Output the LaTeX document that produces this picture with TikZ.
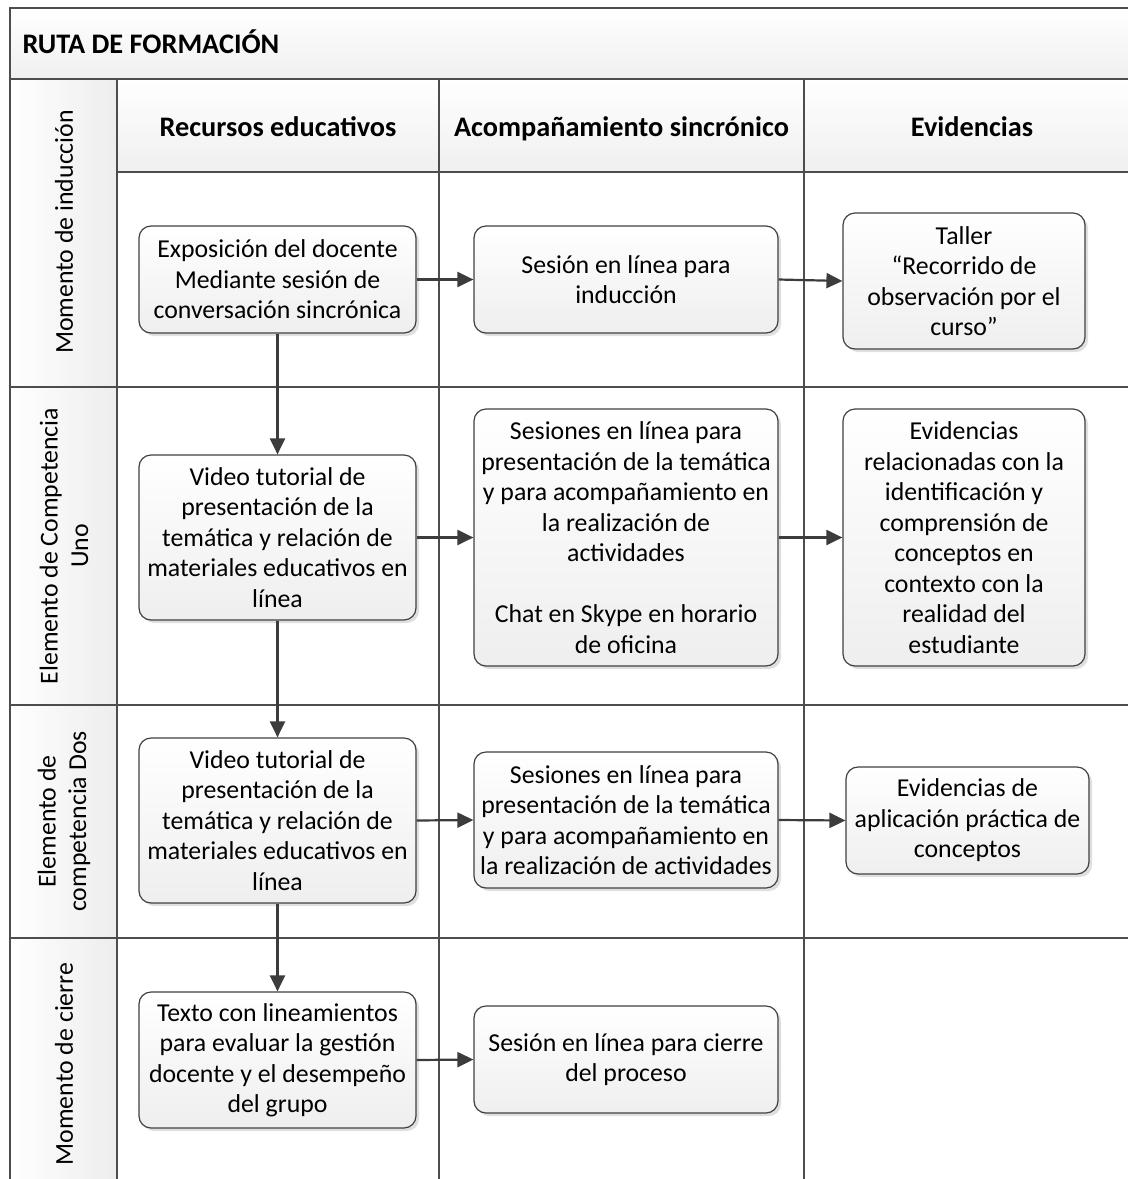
\documentclass[tikz,border=0pt]{standalone}
\usepackage{fontspec}
\setmainfont{Carlito}
\usetikzlibrary{arrows.meta,shadows}
\definecolor{gridcol}{HTML}{4D4D4D}
\definecolor{arrcol}{HTML}{3C3C3C}
\definecolor{boxline}{HTML}{404040}
\tikzset{
  boxstyle/.style={draw=boxline, line width=1.2pt, rounded corners=12pt,
    shading=axis, top color=white, bottom color=gray!13,
    drop shadow={shadow xshift=3pt, shadow yshift=-3pt, opacity=0.25, fill=gray},
    align=center, inner sep=2pt,
    font=\fontsize{25.8}{30.5}\selectfont},
  arr/.style={draw=arrcol, line width=2.2pt, -{Triangle[length=16pt,width=15pt]}},
  gridline/.style={draw=gridcol, line width=2pt},
  headtext/.style={font=\fontsize{28.3}{33}\selectfont\bfseries, anchor=base},
  lanetext/.style={rotate=90, align=center, font=\fontsize{25.8}{30.5}\selectfont}
}
\begin{document}
\begin{tikzpicture}[x=1pt, y=-1pt]
\useasboundingbox (0,0) rectangle (1128,1179);
\clip (0,0) rectangle (1128,1179);
% backgrounds
\shade[top color=white, bottom color=gray!12] (10,8) rectangle (1140,79);
\shade[top color=white, bottom color=gray!12] (117,79) rectangle (1140,172);
\shade[left color=white, right color=gray!14] (10,79) rectangle (117,1190);
% grid
\draw[gridline] (10,1190) -- (10,8) -- (1140,8);
\draw[gridline] (10,79) -- (1140,79);
\draw[gridline] (117,172) -- (1140,172);
\draw[gridline] (117,79) -- (117,1190);
\draw[gridline] (439,79) -- (439,1190);
\draw[gridline] (804,79) -- (804,1190);
\draw[gridline] (10,386.5) -- (1140,386.5);
\draw[gridline] (10,705) -- (1140,705);
\draw[gridline] (10,938) -- (1140,938);
% title & headers
\node[headtext, anchor=base west] (title) at (19,53.5) {RUTA DE FORMACIÓN};
\node[headtext] (h1) at (278,136) {Recursos educativos};
\node[headtext] (h2) at (621.5,136) {Acompañamiento sincrónico};
\node[headtext] (h3) at (972,136) {Evidencias};
% lane labels
\node[lanetext] (l1) at (64,232) {Momento de inducción};
\node[lanetext] (l2) at (64,546) {Elemento de Competencia\\Uno};
\node[lanetext] (l3) at (64,821.5) {Elemento de\\competencia Dos};
\node[lanetext] (l4) at (64,1064) {Momento de cierre};
% boxes
\node[boxstyle, minimum width=277pt, minimum height=107pt] (b1) at (277.5,279.5)
  {Exposición del docente\\Mediante sesión de\\conversación sincrónica};
\node[boxstyle, minimum width=304pt, minimum height=107pt] (b2) at (626,279.5)
  {Sesión en línea para\\inducción};
\node[boxstyle, minimum width=242pt, minimum height=136pt] (b3) at (964,281)
  {Taller\\“Recorrido de\\observación por el\\curso”};
\node[boxstyle, minimum width=277pt, minimum height=165pt] (b4) at (277.5,537.5)
  {Video tutorial de\\presentación de la\\temática y relación de\\materiales educativos en\\línea};
\node[boxstyle, minimum width=304pt, minimum height=257pt] (b5) at (626,537.5)
  {Sesiones en línea para\\presentación de la temática\\y para acompañamiento en\\la realización de\\actividades\\[30.5pt]Chat en Skype en horario\\de oficina};
\node[boxstyle, minimum width=242pt, minimum height=257pt] (b6) at (964,537.5)
  {Evidencias\\relacionadas con la\\identificación y\\comprensión de\\conceptos en\\contexto con la\\realidad del\\estudiante};
\node[boxstyle, minimum width=277pt, minimum height=165pt] (b7) at (277.5,820.5)
  {Video tutorial de\\presentación de la\\temática y relación de\\materiales educativos en\\línea};
\node[boxstyle, minimum width=304pt, minimum height=136pt] (b8) at (626,820)
  {Sesiones en línea para\\presentación de la temática\\y para acompañamiento en\\la realización de actividades};
\node[boxstyle, minimum width=243pt, minimum height=107pt] (b9) at (967.5,820.5)
  {Evidencias de\\aplicación práctica de\\conceptos};
\node[boxstyle, minimum width=277pt, minimum height=136pt] (b10) at (277.5,1060)
  {Texto con lineamientos\\para evaluar la gestión\\docente y el desempeño\\del grupo};
\node[boxstyle, minimum width=304pt, minimum height=107pt] (b11) at (626,1059.5)
  {Sesión en línea para cierre\\del proceso};
% arrows
\draw[arr] (b1.east) -- (b2.west);
\draw[arr] (b2.east) -- (b3.west);
\draw[arr] (b4.east) -- (b5.west);
\draw[arr] (b5.east) -- (b6.west);
\draw[arr] (b7.east) -- (b8.west);
\draw[arr] (b8.east) -- (b9.west);
\draw[arr] (b10.east) -- (b11.west);
\draw[arr] (b1.south) -- (b4.north);
\draw[arr] (b4.south) -- (b7.north);
\draw[arr] (b7.south) -- (b10.north);
\end{tikzpicture}
\end{document}
